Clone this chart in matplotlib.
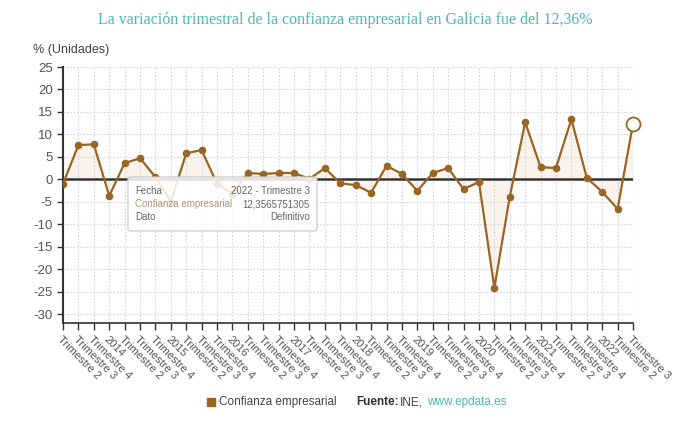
import matplotlib
matplotlib.use("Agg")
import matplotlib.pyplot as plt
from matplotlib.patches import FancyBboxPatch
import numpy as np

plt.rcParams["font.family"] = ["Liberation Sans", "DejaVu Sans"]
plt.rcParams["axes.unicode_minus"] = False

tick_labels = ["Trimestre 2", "Trimestre 3", "Trimestre 4"]
for yr in range(2014, 2022):
    tick_labels += [str(yr), "Trimestre 2", "Trimestre 3", "Trimestre 4"]
tick_labels += ["2022", "Trimestre 2", "Trimestre 3"]

values = [-1.0, 7.6, 7.8, -3.7, 3.6, 4.7, 0.5,
          -5.0, 5.8, 6.5, -1.0,
          -3.2, 1.4, 1.2, 1.4,
          1.4, 0.1, 2.5, -0.9,
          -1.3, -3.0, 3.0, 1.2,
          -2.6, 1.4, 2.5, -2.2,
          -0.6, -24.2, -3.9, 12.7,
          2.7, 2.5, 13.4, 0.3,
          -2.8, -6.6, 12.3565751305]

title = "La variación trimestral de la confianza empresarial en Galicia fue del 12,36%"
series_name = "Confianza empresarial"

BROWN = "#9a6423"
TEAL = "#4fb6b0"
GREY = "#555555"

fig = plt.figure(figsize=(6.9, 4.23), dpi=100)
ax = fig.add_axes([63/690, 1-323/423, 570/690, 256/423])
x = np.arange(len(values))
v = np.array(values)

ax.fill_between(x, v, 0, color="#f3e6d6", alpha=0.45, linewidth=0, zorder=1)
ax.plot(x, v, color=BROWN, lw=1.6, zorder=3)
ax.scatter(x[:-1], v[:-1], s=30, color=BROWN, zorder=4, linewidths=0)
ax.scatter([x[-1]], [v[-1]], s=100, facecolor="white", edgecolor=BROWN,
           linewidths=1.3, zorder=5, clip_on=False)
ax.axhline(0, color="#333333", lw=1.8, zorder=2)

ax.set_xlim(0, len(values) - 1)
ax.set_ylim(-32, 25)
ax.set_yticks(np.arange(-30, 26, 5))
ax.set_xticks(x)
ax.set_xticklabels(tick_labels, rotation=-45, ha="left", va="top",
                   rotation_mode="anchor", fontsize=8, color=GREY)
ax.tick_params(axis="y", labelsize=9.5, labelcolor=GREY, color="#333333", length=4, width=1)
ax.tick_params(axis="x", color="#333333", length=5, width=1, pad=3)
ax.grid(True, color="#d4d4e0", linestyle=(0, (1.5, 1.5)), lw=0.8, zorder=0)
for s in ["top", "right"]:
    ax.spines[s].set_visible(False)
ax.spines["left"].set_color("#333333")
ax.spines["left"].set_linewidth(1.5)
ax.spines["bottom"].set_color("#333333")
ax.spines["bottom"].set_linewidth(1.2)
ax.axvline(len(values) - 1, color="#d4d4e0", linestyle=(0, (1.5, 1.5)), lw=0.8, zorder=0)

fig.text(0.5, 1-20/423, title, ha="center", va="center", fontsize=11.5,
         family="Liberation Serif", color=TEAL)
fig.text(33/690, 1-50/423, "% (Unidades)", ha="left", va="center", fontsize=9,
         color="#444444")

# tooltip
tip = FancyBboxPatch((128/690, 1-231/423), 189/690, 54/423,
                     boxstyle="round,pad=0,rounding_size=0.005",
                     transform=fig.transFigure, facecolor="white", alpha=0.85,
                     edgecolor="#c8c8c8", lw=1, zorder=10)
fig.patches.append(tip)
rows = [("Fecha", "2022 - Trimestre 3", "#666666"),
        (series_name, "12,3565751305", "#b09570"),
        ("Dato", "Definitivo", "#666666")]
for i, (k, val, c) in enumerate(rows):
    yy = 1 - (191 + i * 13) / 423
    fig.text(135/690, yy, k, ha="left", va="center", fontsize=7,
             color=c, zorder=11)
    fig.text(310/690, yy, val, ha="right", va="center", fontsize=7,
             color="#666666", zorder=11)

# legend / source
ly = 1 - 402/423
fig.patches.append(plt.Rectangle((207/690, ly - 4/423), 8/690, 8/423,
                                 transform=fig.transFigure, color=BROWN))
fig.text(219/690, ly, series_name, ha="left", va="center", fontsize=8.5,
         color="#444444")
fig.text(356/690, ly, "Fuente:", ha="left", va="center", fontsize=8.5,
         weight="bold", color="#333333")
fig.text(400/690, ly, "INE,", ha="left", va="center", fontsize=8.5,
         color="#444444")
fig.text(427/690, ly, "www.epdata.es", ha="left", va="center", fontsize=8.5,
         color=TEAL)

fig.savefig("out.png", dpi=100, facecolor="white")
